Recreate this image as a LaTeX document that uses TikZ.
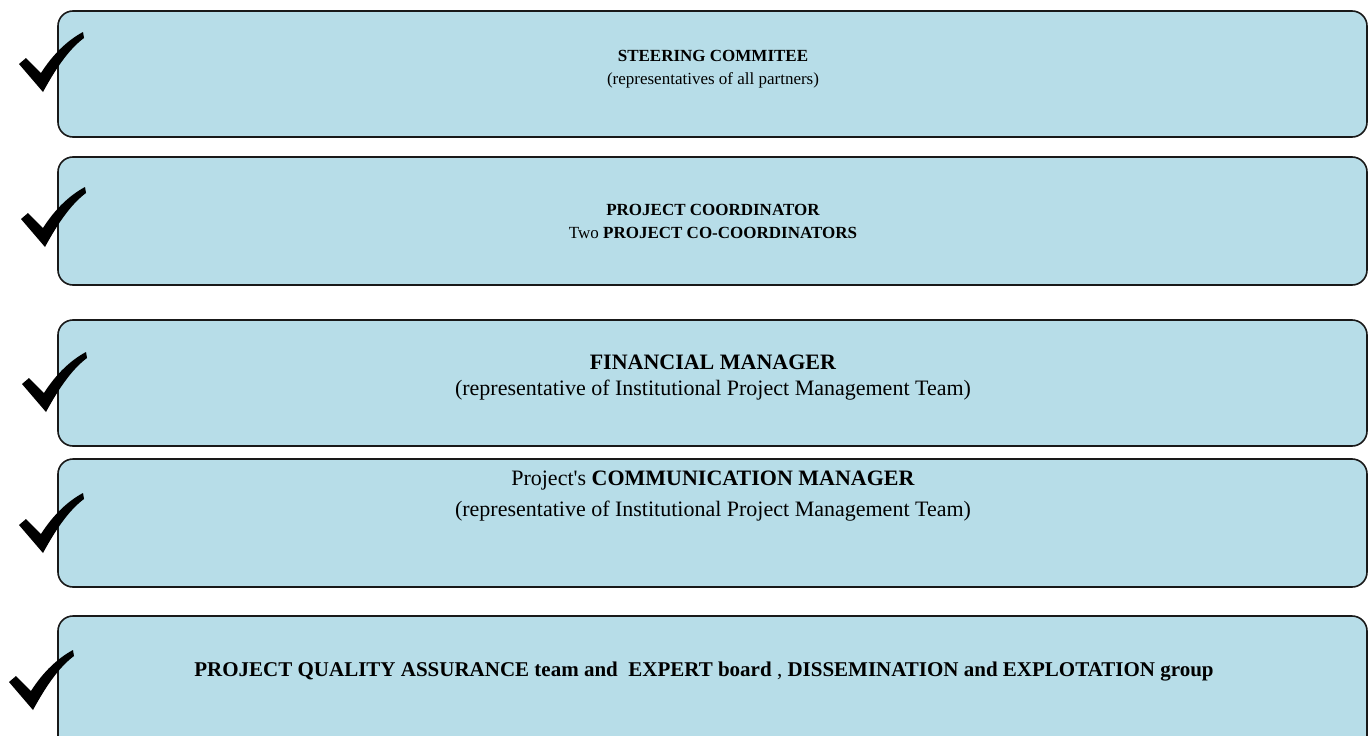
\documentclass[tikz,border=0pt]{standalone}
\usepackage{fontspec}
\setmainfont{Liberation Serif}
\definecolor{boxfill}{RGB}{183,221,232}
\definecolor{boxline}{RGB}{25,25,25}
\tikzset{
  x=1pt, y=-1pt,
  panel/.style={fill=boxfill, draw=boxline, line width=1.6pt, rounded corners=15pt},
  label/.style={align=center, font=\fontsize{17}{23}\selectfont, inner sep=0pt},
  chk/.pic={\fill[black] (0,0) -- (-24,-28) -- (-17,-34) -- (-2,-19)
      .. controls (10,-38) and (25,-52) .. (40,-60) -- (41,-54)
      .. controls (25,-42) and (12,-22) .. (0,0) -- cycle;}
}
\begin{document}
\begin{tikzpicture}
\useasboundingbox (0,0) rectangle (1369,736);
\clip (0,0) rectangle (1369,736);
\draw[panel] (58,11) rectangle (1367,137);
\draw[panel] (58,157) rectangle (1367,285);
\draw[panel] (58,320) rectangle (1367,446);
\draw[panel] (58,459) rectangle (1367,587);
\draw[panel] (58,616) rectangle (1367,770);
\pic at (43,92) {chk};
\pic at (45,247) {chk};
\pic at (46,412) {chk};
\pic at (43,553) {chk};
\pic at (33,710) {chk};
\node[label] (t1) at (713,69) {\textbf{STEERING COMMITEE}\\(representatives of all partners)};
\node[label, font=\fontsize{17}{23}\selectfont] (t2) at (713,221) {\textbf{PROJECT COORDINATOR}\\Two \textbf{PROJECT CO-COORDINATORS}};
\node[label, font=\fontsize{22}{26}\selectfont] (t3) at (713,378) {\textbf{FINANCIAL MANAGER}\\(representative of Institutional Project Management Team)};
\node[label, font=\fontsize{22}{31}\selectfont] (t4) at (713,496) {Project\textquotesingle s \textbf{COMMUNICATION MANAGER}\\(representative of Institutional Project Management Team)};
\node[label, font=\fontsize{21}{25}\selectfont] (t5) at (704,672) {\textbf{PROJECT QUALITY ASSURANCE team and\ \ EXPERT board} , \textbf{DISSEMINATION and EXPLOTATION group}};
\end{tikzpicture}
\end{document}
